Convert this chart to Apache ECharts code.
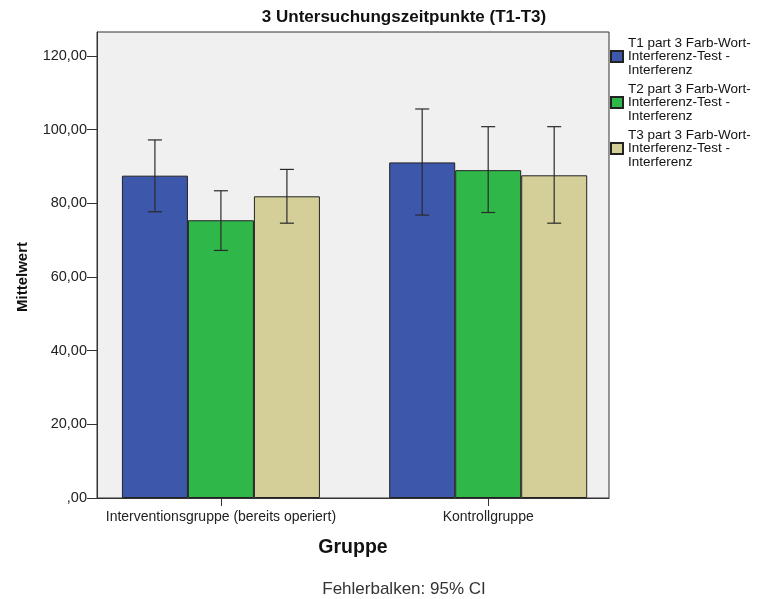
<!DOCTYPE html>
<html>
<head>
<meta charset="utf-8">
<script src="https://cdn.jsdelivr.net/npm/echarts@6/dist/echarts.min.js"></script>
<style>
  html, body { margin: 0; padding: 0; background: #fff; }
  #chart { width: 760px; height: 599px; }
</style>
</head>
<body>
<div id="chart"></div>
<script>
// Gruppen und Messwerte (Mittelwert, 95%-KI)
const categories = ['Interventionsgruppe (bereits operiert)', 'Kontrollgruppe']
const seriesNames = [
  'T1 part 3 Farb-Wort-\nInterferenz-Test -\nInterferenz',
  'T2 part 3 Farb-Wort-\nInterferenz-Test -\nInterferenz',
  'T3 part 3 Farb-Wort-\nInterferenz-Test -\nInterferenz',
]
const meanT1 = [87.5, 91.1]
const meanT2 = [75.4, 89.0]
const meanT3 = [81.9, 87.6]
const ciLowT1 = [77.7, 76.8]
const ciLowT2 = [67.2, 77.5]
const ciLowT3 = [74.6, 74.6]
const ciHighT1 = [97.2, 105.6]
const ciHighT2 = [83.4, 100.8]
const ciHighT3 = [89.2, 100.8]
const yTicks = [0, 20, 40, 60, 80, 100, 120]
const xTicks = [0, 1]

const colors = ['#3d57ab', '#2fb74a', '#d4cf99']
const BAR_W = 66

const means = [meanT1, meanT2, meanT3]
const lows = [ciLowT1, ciLowT2, ciLowT3]
const highs = [ciHighT1, ciHighT2, ciHighT3]

// SPSS-Format: 120,00 / ,00
const fmt = v => {
  const s = v.toFixed(2).replace('.', ',')
  return s.startsWith('0,') ? s.slice(1) : s
}

// Fehlerbalken als custom series
function errorSeries(k) {
  return {
    type: 'custom',
    name: seriesNames[k],
    silent: true,
    z: 5,
    renderItem(params, api) {
      const lo = api.coord([api.value(0), api.value(1)])
      const hi = api.coord([api.value(0), api.value(2)])
      const x = lo[0] + (k - 1) * BAR_W
      const cap = 7
      const style = { stroke: '#2a2a2a', lineWidth: 1.2 }
      return {
        type: 'group',
        children: [
          { type: 'line', shape: { x1: x, y1: hi[1], x2: x, y2: lo[1] }, style },
          { type: 'line', shape: { x1: x - cap, y1: hi[1], x2: x + cap, y2: hi[1] }, style },
          { type: 'line', shape: { x1: x - cap, y1: lo[1], x2: x + cap, y2: lo[1] }, style },
        ],
      }
    },
    encode: { x: 0, y: [1, 2] },
    data: categories.map((c, i) => [i, lows[k][i], highs[k][i]]),
  }
}

const chart = echarts.init(document.getElementById('chart'))
chart.setOption({
  animation: false,
  textStyle: { fontFamily: 'Liberation Sans, Arial, sans-serif' },
  title: [
    {
      text: '3 Untersuchungszeitpunkte (T1-T3)',
      left: 404,
      textAlign: 'center',
      top: 9,
      padding: 0,
      textStyle: { fontSize: 17, fontWeight: 'bold', color: '#111' },
    },
    {
      text: 'Fehlerbalken: 95% CI',
      left: 404,
      textAlign: 'center',
      top: 581,
      padding: 0,
      textStyle: { fontSize: 17, fontWeight: 'normal', color: '#333' },
    },
  ],
  legend: {
    orient: 'vertical',
    left: 610,
    top: 36,
    padding: 0,
    itemWidth: 12,
    itemHeight: 11,
    itemGap: 5,
    icon: 'rect',
    data: seriesNames,
    textStyle: { fontSize: 13.5, lineHeight: 13.5, color: '#111' },
  },
  grid: {
    left: 97,
    right: 151,
    top: 32,
    bottom: 101,
    show: true,
    backgroundColor: '#f0f0f0',
    borderColor: '#333',
    borderWidth: 1,
  },
  xAxis: {
    type: 'value',
    min: -0.4636,
    max: 1.452,
    name: 'Gruppe',
    nameLocation: 'middle',
    nameGap: 40,
    nameTextStyle: { fontSize: 19.5, fontWeight: 'bold', color: '#111' },
    splitLine: { show: false },
    axisLine: { show: true, onZero: false, lineStyle: { color: '#333' } },
    axisTick: { show: true, length: 8, customValues: xTicks, lineStyle: { color: '#333' } },
    axisLabel: {
      fontSize: 14,
      color: '#222',
      margin: 12,
      customValues: xTicks,
      formatter: v => categories[v] || '',
    },
  },
  yAxis: {
    type: 'value',
    min: 0,
    max: 126.5,
    name: 'Mittelwert',
    nameLocation: 'middle',
    nameGap: 67,
    nameTextStyle: { fontSize: 15, fontWeight: 'bold', color: '#111', padding: [0, 24, 0, 0] },
    splitLine: { show: false },
    axisLine: { show: true, onZero: false, lineStyle: { color: '#333' } },
    axisTick: { show: true, length: 10, customValues: yTicks, lineStyle: { color: '#333' } },
    axisLabel: { fontSize: 14.5, color: '#222', margin: 10, customValues: yTicks, formatter: fmt },
  },
  series: [
    ...means.map((m, k) => ({
      type: 'bar',
      name: seriesNames[k],
      data: m.map((v, i) => [i, v]),
      barWidth: BAR_W,
      barGap: '0%',
      itemStyle: { color: colors[k], borderColor: '#222', borderWidth: 1 },
    })),
    ...[0, 1, 2].map(errorSeries),
  ],
})
</script>
</body>
</html>
